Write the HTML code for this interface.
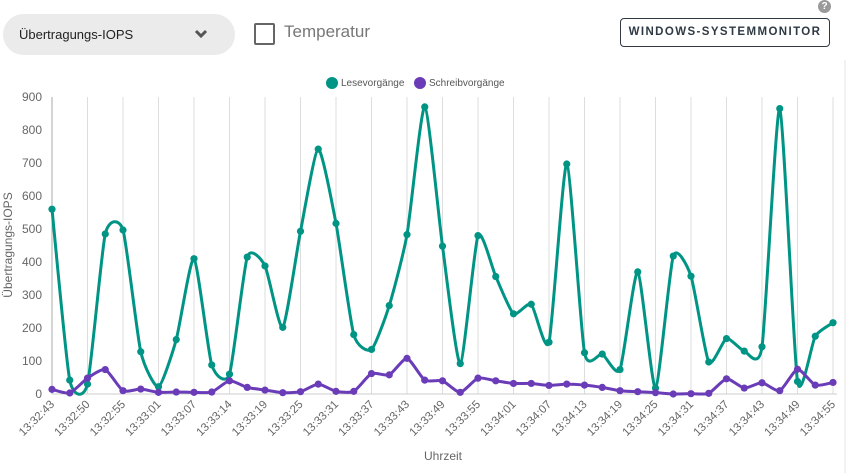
<!DOCTYPE html>
<html><head><meta charset="utf-8"><style>
body{margin:0;width:848px;height:473px;background:#fff;font-family:"Liberation Sans",sans-serif;overflow:hidden;position:relative}
.dd{position:absolute;left:3px;top:14px;width:232px;height:41px;background:#ebebeb;border-radius:21px}
.dd span{position:absolute;left:16px;top:13px;font-size:13px;color:#222}
.cb{position:absolute;left:254px;top:23px;width:17px;height:18px;border:2px solid #666;border-radius:2px}
.tl{position:absolute;left:284px;top:22px;font-size:17px;color:#777}
.btn{position:absolute;left:620px;top:18px;width:208px;height:27px;border:1.5px solid #2f3a44;border-radius:4px;font-size:11.5px;font-weight:bold;letter-spacing:1.4px;color:#2f3a44;text-align:center;line-height:27px}
.help{position:absolute;left:818px;top:0;width:13px;height:13px;border-radius:50%;background:#9a9a9a;color:#fff;font-size:10px;font-weight:bold;text-align:center;line-height:13px}
</style></head><body>
<div class="dd"><span>Übertragungs-IOPS</span>
<svg style="position:absolute;left:191px;top:15px" width="14" height="10"><path d="M2 2 L7 7 L12 2" stroke="#555" stroke-width="3" fill="none"/></svg></div>
<div class="cb"></div>
<div class="tl">Temperatur</div>
<div class="btn">WINDOWS-SYSTEMMONITOR</div>
<div class="help">?</div>
<svg id="chart" width="848" height="473" style="position:absolute;left:0;top:0"></svg>
<script>
const categories=["13:32:43","13:32:50","13:32:55","13:33:01","13:33:07","13:33:14","13:33:19","13:33:25","13:33:31","13:33:37","13:33:43","13:33:49","13:33:55","13:34:01","13:34:07","13:34:13","13:34:19","13:34:25","13:34:31","13:34:37","13:34:43","13:34:49","13:34:55"];
const readValues=[560,42,30,485,497,128,22,165,410,88,60,415,388,202,493,742,517,180,135,268,483,870,448,92,480,356,243,272,157,697,125,121,74,370,18,418,357,97,168,130,143,865,38,175,216];
const writeValues=[14,3,48,74,10,15,5,6,5,6,40,20,12,4,7,30,8,8,62,58,108,42,40,5,48,40,32,32,26,30,27,20,10,7,4,0,1,2,46,18,34,10,75,27,35];
const yTicks=[0,100,200,300,400,500,600,700,800,900];
const NS="http://www.w3.org/2000/svg",svg=document.getElementById('chart');
const X0=52,X1=833,Y0=394,Y1=97,N=readValues.length;
const x=i=>X0+(X1-X0)*i/(N-1), y=v=>Y0-(Y0-Y1)*v/900;
function mk(t,a){const e=document.createElementNS(NS,t);for(const k in a)e.setAttribute(k,a[k]);svg.appendChild(e);return e;}
yTicks.forEach(v=>{const t=mk('text',{x:42,y:y(v)+4,'text-anchor':'end','font-size':12,fill:'#666'});t.textContent=v;

});
categories.forEach((c,k)=>{const xx=x(k*2);
const l=mk('line',{x1:xx,x2:xx,y1:Y1,y2:Y0,stroke:k==0?'#aaa':'#ddd','stroke-width':1});


const t=mk('text',{x:xx+3,y:Y0+11,'text-anchor':'end','font-size':11.5,fill:'#666',transform:`rotate(-45 ${xx+3} ${Y0+11})`});t.textContent=c;

});
const base=mk('line',{x1:X0,x2:X1+4,y1:Y0,y2:Y0,stroke:'#ccc'});


function path(vals){const p=vals.map((v,i)=>[x(i),y(v)]);let d=`M${p[0][0]},${p[0][1]}`;const k=1/10;
for(let i=0;i<p.length-1;i++){const a=p[i-1]||p[i],b=p[i],c=p[i+1],e=p[i+2]||c;
d+=` C${b[0]+(c[0]-a[0])*k},${b[1]+(c[1]-a[1])*k} ${c[0]-(e[0]-b[0])*k},${c[1]-(e[1]-b[1])*k} ${c[0]},${c[1]}`;}return d;}
[[readValues,'#009485','read'],[writeValues,'#6a3cb8','write']].forEach(([vals,col,nm])=>{
const pl=mk('path',{d:path(vals),fill:'none',stroke:col,'stroke-width':3});


vals.forEach((v,i)=>{const c=mk('circle',{cx:x(i),cy:y(v),r:3.6,fill:col});

});});
const lg=[[332,'#009485','Lesevorgänge'],[420,'#6a3cb8','Schreibvorgänge']];
lg.forEach(([lx,col,txt])=>{const c=mk('circle',{cx:lx,cy:83,r:6,fill:col});


const t=mk('text',{x:lx+9,y:86,'font-size':10,fill:'#555'});t.textContent=txt;

});
const yt=mk('text',{x:12,y:245,'text-anchor':'middle','font-size':12,fill:'#666',transform:'rotate(-90 12 245)'});yt.textContent='Übertragungs-IOPS';


const xt=mk('text',{x:443,y:460,'text-anchor':'middle','font-size':12,fill:'#666'});xt.textContent='Uhrzeit';


const sb=mk('line',{x1:845,x2:845,y1:60,y2:473,stroke:'#e4e4e4'});


</script>
</body></html>
